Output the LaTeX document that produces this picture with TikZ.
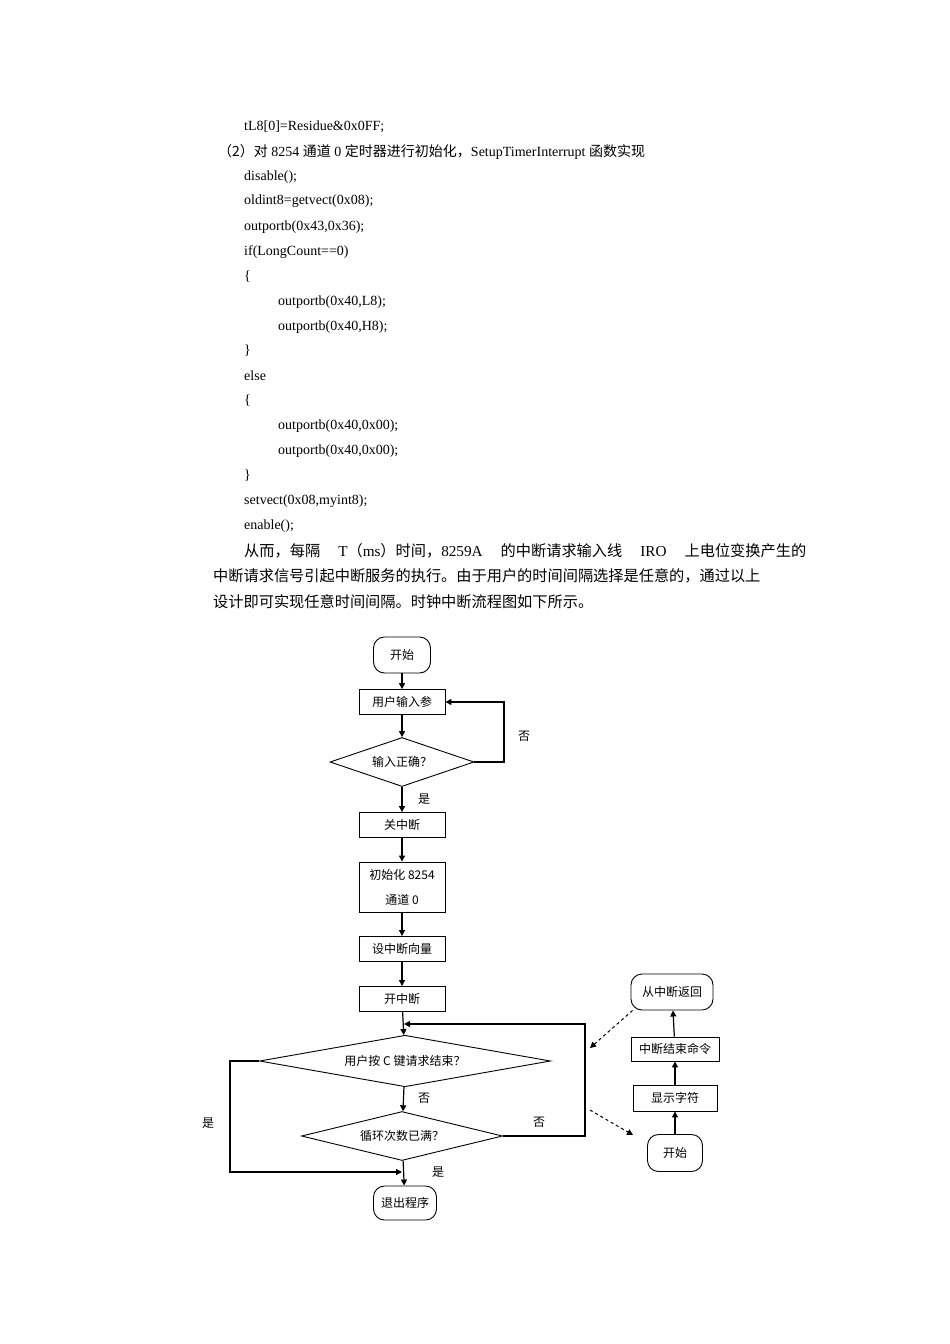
\documentclass[tikz,border=0pt]{standalone}
\usepackage{fontspec}
\setmainfont{Liberation Serif}
\newfontfamily\cjk{Noto Sans CJK SC}
\usetikzlibrary{shapes.geometric,arrows.meta}
\newcommand{\C}[1]{{\cjk #1}}
\begin{document}
\begin{tikzpicture}[x=1pt,y=-1pt,
  body/.style={anchor=west,inner sep=0pt,font=\fontsize{14}{14}\selectfont},
  para/.style={anchor=west,inner sep=0pt,font=\fontsize{15.2}{15}\selectfont},
  fl/.style={font=\cjk\fontsize{12}{15}\selectfont},
  box/.style={fl,draw,line width=0.9pt,minimum width=86pt,minimum height=25pt,inner sep=1pt,align=center},
  term/.style={fl,draw,line width=0.9pt,rounded corners=11pt,minimum height=36pt,inner sep=2pt},
  dia/.style={fl,draw,line width=0.9pt,diamond,aspect=3,inner sep=0pt},
  lbl/.style={fl,inner sep=0pt},
  arr/.style={-{Triangle[length=6pt,width=6pt]},line width=1.2pt},
  darr/.style={-{Triangle[length=6pt,width=6pt]},line width=1pt,dashed}]
\useasboundingbox (0,0) rectangle (950,1344);
\fill[white] (0,0) rectangle (950,1344);
% text
\node[body] (t1) at (244,127) {tL8[0]=Residue\&0x0FF;};
\node[body] (t2) at (218,152) {\C{（2）对} 8254 \C{通道} 0 \C{定时器进行初始化，}SetupTimerInterrupt \C{函数实现}};
\node[body] (t3) at (244,177) {disable();};
\node[body] (t4) at (244,201) {oldint8=getvect(0x08);};
\node[body] (t5) at (244,227) {outportb(0x43,0x36);};
\node[body] (t6) at (244,252) {if(LongCount==0)};
\node[body] (t7) at (244,277) {\{};
\node[body] (t8) at (278,302) {outportb(0x40,L8);};
\node[body] (t9) at (278,327) {outportb(0x40,H8);};
\node[body] (t10) at (244,351) {\}};
\node[body] (t11) at (244,376) {else};
\node[body] (t12) at (244,401) {\{};
\node[body] (t13) at (278,426) {outportb(0x40,0x00);};
\node[body] (t14) at (278,451) {outportb(0x40,0x00);};
\node[body] (t15) at (244,476) {\}};
\node[body] (t16) at (244,501) {setvect(0x08,myint8);};
\node[body] (t17) at (244,526) {enable();};
\node[para] (p1) at (244,551) {\makebox[562pt][s]{\C{从而，每隔} T\C{（}ms\C{）时间，}8259A \C{的中断请求输入线} IRO \C{上电位变换产生的}}};
\node[para] (p2) at (213,576) {\makebox[593pt][s]{\C{中断请求信号引起中断服务的执行。由于用户的时间间隔选择是任意的，通过以上}}};
\node[para] (p3) at (213,602) {\C{设计即可实现任意时间间隔。时钟中断流程图如下所示。}};
% flowchart
\node[term,minimum width=57pt] (s) at (402,655) {开始};
\node[box] (in) at (402,702) {用户输入参};
\node[dia,minimum width=144pt,minimum height=49pt] (ok) at (402,762) {输入正确？};
\node[box] (gz) at (402,825) {关中断};
\node[box,minimum height=50pt,font=\cjk\fontsize{12}{25}\selectfont] (init) at (402,887) {初始化 8254\\通道 0};
\node[box] (vec) at (402,949) {设中断向量};
\node[box] (kz) at (402,999) {开中断};
\node[dia,minimum width=291pt,minimum height=49pt] (cq) at (405,1061) {用户按 C 键请求结束？};
\node[dia,minimum width=201pt,minimum height=49pt] (lp) at (402,1136) {循环次数已满？};
\node[term,minimum width=63pt,minimum height=34pt] (ex) at (405,1203) {退出程序};
\coordinate (j1) at (404,1024);
\coordinate (j2) at (402,1172);
\draw[arr] (s) -- (in);
\draw[arr] (in) -- (ok);
\draw[arr] (ok.east) -- (504,762) -- (504,702) -- (in.east);
\draw[arr] (ok) -- (gz);
\draw[arr] (gz) -- (init);
\draw[arr] (init) -- (vec);
\draw[arr] (vec) -- (kz);
\draw[arr] (kz) -- (cq);
\draw[arr] (cq) -- (lp);
\draw[arr] (lp.east) -- (585,1136) -- (585,1024) -- (j1);
\draw[arr] (cq.west) -- (230,1061) -- (230,1172) -- (j2);
\draw[arr] (lp) -- (ex);
\node[lbl] (n1) at (524,736) {否};
\node[lbl] (y1) at (424,799) {是};
\node[lbl] (n2) at (424,1098) {否};
\node[lbl] (n3) at (539,1122) {否};
\node[lbl] (y2) at (208,1123) {是};
\node[lbl] (y3) at (438,1172) {是};
% right side
\node[term,minimum width=82pt] (ret) at (672,992) {从中断返回};
\node[box,minimum width=88pt,minimum height=24pt] (eoi) at (675,1049) {中断结束命令};
\node[box,minimum width=84pt,minimum height=26pt] (disp) at (675,1098) {显示字符};
\node[term,minimum width=55pt,minimum height=37pt] (s2) at (675,1153) {开始};
\draw[arr] (s2) -- (disp);
\draw[arr] (disp) -- (eoi);
\draw[arr] (eoi) -- (ret);
\coordinate (d1) at (590,1048);
\coordinate (d2) at (590,1110);
\coordinate (d3) at (633,1135);
\draw[darr] (ret.south west) ++(2,0) -- (d1);
\draw[darr] (d2) -- (d3);
\end{tikzpicture}
\end{document}
